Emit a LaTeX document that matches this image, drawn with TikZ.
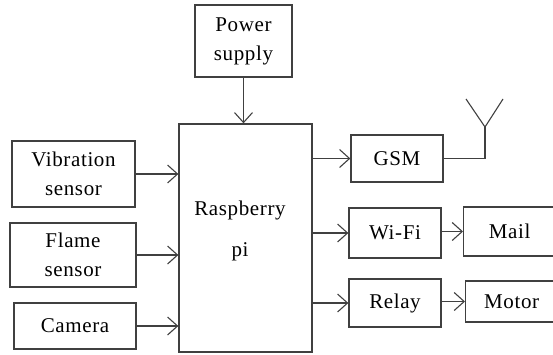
\documentclass[tikz,border=0pt]{standalone}
\usepackage{fontspec}
\setmainfont{Liberation Serif}[LetterSpace=3]
\usetikzlibrary{arrows.meta,positioning}
\tikzstyle{block} = [rectangle, draw=black!75, line width=1.3pt, inner sep=0pt, align=center, font=\fontsize{21}{29}\selectfont]
\tikzstyle{line} = [draw=black!75, line width=1.1pt, -{Straight Barb[length=10pt,width=18pt,line width=1.1pt]}]
\tikzstyle{wire} = [draw=black!75, line width=1.1pt]

\begin{document}
\begin{tikzpicture}[x=1pt, y=-1pt]
    \useasboundingbox (0,0) rectangle (553,354);
    \clip (0,0) rectangle (553,354);
    \node [block, minimum width=97pt, minimum height=72pt] (powerSupply) at (243.5,41) {Power\\supply};
    \node [block, minimum width=133pt, minimum height=228pt] (raspberryPi) at (245.5,238) {};
    \node [align=center, font=\fontsize{21}{41}\selectfont] (raspberryText) at (240,231) {Raspberry\\pi};
    \node [block, minimum width=123pt, minimum height=66pt] (vibrationSensor) at (73.5,174) {Vibration\\sensor};
    \node [block, minimum width=126pt, minimum height=64pt] (flameSensor) at (73,255) {Flame\\sensor};
    \node [block, minimum width=122pt, minimum height=46pt] (camera) at (75,326) {Camera};
    \node [block, minimum width=92pt, minimum height=47pt] (gsm) at (397,158.5) {GSM};
    \node [block, minimum width=92pt, minimum height=50pt] (wifi) at (395,233) {Wi-Fi};
    \node [block, minimum width=92pt, minimum height=48pt] (relay) at (395,303) {Relay};
    \node [block, minimum width=110pt, minimum height=49pt, anchor=west] (mail) at (463,231.5) {Mail\hspace*{18pt}};
    \node [block, minimum width=110pt, minimum height=41pt, anchor=west] (motor) at (465,301.5) {Motor\hspace*{18pt}};
    \coordinate (antenna) at (485,127);
    \path [line] (powerSupply.south) -- (powerSupply.south |- raspberryPi.north);
    \path [line] (vibrationSensor.east) -- (vibrationSensor.east -| raspberryPi.west);
    \path [line] (flameSensor.east) -- (flameSensor.east -| raspberryPi.west);
    \path [line] (camera.east) -- (camera.east -| raspberryPi.west);
    \path [line] (raspberryPi.east |- gsm.west) -- (gsm.west);
    \path [line] (raspberryPi.east |- wifi.west) -- (wifi.west);
    \path [line] (raspberryPi.east |- relay.west) -- (relay.west);
    \path [line] (wifi.east |- mail.west) -- (mail.west);
    \path [line] (relay.east |- motor.west) -- (motor.west);
    \path [wire] (gsm.east) -- (gsm.east -| antenna) -- (antenna);
    \path [wire] (antenna) -- ++(-19,-28);
    \path [wire] (antenna) -- ++(18,-28);
  \end{tikzpicture}
\end{document}
